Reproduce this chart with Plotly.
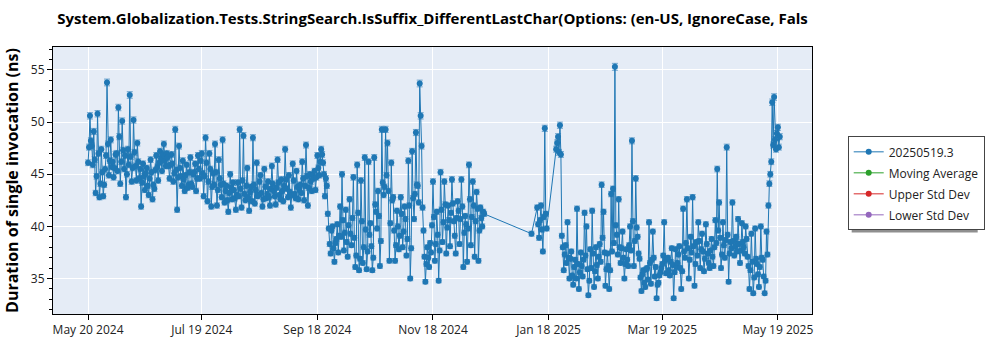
import pandas as pd
import plotly.graph_objects as go

TITLE = "System.Globalization.Tests.StringSearch.IsSuffix_DifferentLastChar(Options: (en-US, IgnoreCase, Fals"
Y_TITLE = "Duration of single invocation (ns)"
SERIES_NAME = "20250519.3"
EXTRA_SERIES = ["Moving Average", "Upper Std Dev", "Lower Std Dev"]
EXTRA_COLORS = ["#2ca02c", "#d62728", "#9467bd"]

TICK_DATES = ["2024-05-20", "2024-07-19", "2024-09-18", "2024-11-18",
              "2025-01-18", "2025-03-19", "2025-05-19"]
TICK_TEXT = ["May 20 2024", "Jul 19 2024", "Sep 18 2024", "Nov 18 2024",
             "Jan 18 2025", "Mar 19 2025", "May 19 2025"]

# run segments: (first run date, runs every 12 hours)
seg1_start = "2024-05-20"
seg1_vals = [
    46.1,47.6, 50.6,48.2, 47.7,45.9, 49.1,46.4, 43.2,44.8, 50.8,47.0, 42.8,44.1,
    47.4,45.2, 42.9,44.0, 45.5,46.8, 53.8,47.9, 44.9,46.3, 48.3,45.7, 46.2,44.7,
    45.6,46.9, 47.0,45.3, 51.4,48.6, 44.1,46.2, 50.1,47.3, 45.5,46.8, 42.8,45.0,
    47.4,45.9, 52.6,46.7, 44.3,45.6, 50.2,47.1, 45.8,44.4, 48.0,46.2, 44.6,45.5,
    41.9,44.2, 46.0,44.8, 43.5,45.1, 45.6,43.9, 43.0,44.6, 46.4,45.2, 42.6,44.0,
    43.6,45.4, 46.8,45.7, 44.4,46.1, 47.2,46.5, 45.3,46.9, 47.9,46.3, 45.8,47.0,
    46.6,45.8, 44.6,45.9, 46.9,46.0, 44.3,45.1, 49.3,45.4, 41.6,44.7, 47.7,45.6,
    44.8,43.9, 46.3,44.5, 43.4,44.9, 45.9,43.7, 44.0,45.2, 46.6,44.1, 43.8,45.0,
    45.2,46.0, 43.4,44.6, 46.8,45.5, 44.6,46.3, 47.0,45.1, 42.9,44.8, 48.5,46.1,
    42.4,44.3, 47.0,45.5, 41.9,43.8, 45.1,44.0, 47.9,45.2, 42.0,43.5, 46.4,44.6,
    44.0,42.8, 48.3,44.1, 42.3,43.4, 43.9,42.5, 41.4,43.2, 45.0,43.7, 42.6,44.2,
    43.5,42.7, 41.6,43.0, 44.2,42.9, 49.3,43.6, 41.8,44.4, 48.7,43.1, 42.5,43.9,
    45.6,42.8, 41.5,43.3, 43.8,42.4, 48.5,44.0, 42.2,43.5, 46.1,42.9, 43.0,44.3,
    44.9,43.2, 41.9,42.6, 45.5,43.8, 42.7,43.1, 44.3,42.8, 42.0,43.6, 45.8,44.1,
    43.4,42.9, 42.1,43.7, 46.4,44.2, 43.0,42.6, 44.5,43.4, 42.4,43.9, 47.4,44.5,
    43.6,42.8, 44.9,43.3, 41.8,43.0, 46.0,44.4, 43.1,42.7, 45.3,43.8, 42.6,43.5,
    44.0,43.2, 46.2,44.6, 42.5,43.9, 47.8,44.8, 42.0,43.7, 45.0,44.3, 43.4,44.9,
    44.6,45.3, 43.5,44.7, 46.8,45.6, 44.9,46.2, 47.4,46.9, 46.1,45.0, 42.9,44.6,
    43.9,41.2, 39.8,38.3, 37.4,39.6, 40.0,37.9, 36.6,38.4, 38.8,40.2, 37.5,39.1,
    41.9,39.0, 45.0,40.6, 37.7,39.4, 41.6,38.5, 37.1,40.1, 42.6,39.3, 38.2,40.8,
    44.7,38.9, 36.1,37.2, 45.9,41.3, 35.8,36.9, 44.4,40.5, 36.5,38.0, 46.6,39.7,
    35.9,37.6, 46.2,39.2, 40.3,38.1, 35.8,37.0, 46.6,42.1, 41.4,39.8, 43.4,41.0,
    36.2,38.6, 49.3,44.2, 43.0,43.8, 49.3,44.9, 48.0,43.4, 36.7,40.3, 46.1,42.5,
    42.8,39.6, 36.7,38.2, 41.5,40.0, 37.8,39.1, 42.8,41.2, 38.0,39.5, 41.9,40.7,
    37.2,38.8, 46.3,42.0, 35.0,37.9, 47.2,42.7, 40.7,43.1, 49.0,44.0, 43.9,42.3,
    53.7,50.6, 47.7,41.8, 39.6,37.1, 34.7,36.4, 38.0,37.0, 36.1,38.4, 37.5,40.1,
    44.3,40.9, 36.7,38.3, 41.4,39.2, 34.8,37.7, 45.2,41.6, 38.5,40.4, 44.3,42.1,
    37.4,39.9, 42.0,40.6, 38.1,41.3, 44.5,42.2, 40.5,39.1, 37.4,40.8, 42.4,41.5,
    38.3,40.7, 44.5,41.9, 36.1,39.4, 41.0,40.2, 36.6,39.8, 45.9,42.6, 38.2,40.9,
    44.3,42.0, 37.1,40.5, 43.3,41.7, 36.7,39.6, 41.8,40.8, 40.0,41.4, 41.2,
]

seg2_start = "2025-01-09"
seg2_vals = [39.3]

seg3_start = "2025-01-12"
seg3_vals = [41.8,40.2, 38.9,40.6, 42.0,39.7, 37.6,40.9, 49.4,41.2, 39.8]

seg4_start = "2025-01-22"
seg4_vals = [
    47.4,48.0, 48.6,47.1, 49.7,46.9, 39.1,38.0, 35.8,37.3, 38.2,36.5, 40.4,37.0,
    35.0,36.9, 37.6,35.3, 34.4,36.1, 36.8,35.0, 41.7,36.4, 34.0,35.6, 37.5,36.2,
    35.2,36.8, 41.3,37.2, 40.0,35.9, 33.4,34.8, 37.8,36.0, 41.5,37.4, 34.2,35.7,
    38.0,36.3, 35.0,37.1, 38.3,36.6, 44.0,38.9, 41.4,37.5, 34.3,35.9, 37.4,36.2,
    34.0,35.8, 43.1,37.6, 43.6,38.4, 55.3,40.1, 39.2,37.3, 42.6,38.0, 36.5,37.9,
    39.5,37.0, 35.0,36.4, 37.8,36.8, 36.2,38.2, 40.0,37.7, 48.2,40.5, 36.2,38.6,
    44.6,39.9, 39.0,37.4, 36.9,35.1, 33.8,35.4, 35.8,34.6, 34.2,35.9, 36.0,34.9,
    40.4,36.5, 34.5,36.8, 39.5,37.0, 35.2,36.1, 33.1,34.4, 34.6,35.3, 35.6,36.0,
    36.4,37.2, 40.4,36.7, 35.5,36.9, 37.0,35.8, 35.3,36.6, 37.9,36.3, 33.1,35.6,
    37.8,36.1, 36.5,37.3, 38.1,36.0, 34.0,35.7, 41.7,37.6, 37.0,38.4, 42.6,37.9,
    35.0,36.8, 39.0,37.5, 42.8,38.1, 34.3,36.4, 38.5,37.2, 40.4,38.6, 36.0,37.8,
    39.3,37.6, 35.7,36.9, 40.2,38.3, 37.4,36.5, 36.0,37.7, 38.8,37.1, 36.2,38.0,
    40.6,38.4, 45.5,39.6, 42.3,38.9, 36.0,37.3, 40.4,38.2, 37.0,38.7, 47.6,39.2,
    34.7,37.4, 38.5,37.9, 42.3,38.6, 37.2,38.1, 39.0,37.6, 40.7,38.3, 36.5,37.7,
    40.3,38.5, 38.0,37.4, 40.0,38.8, 37.1,36.2, 34.0,35.8, 39.3,36.6, 33.6,35.1,
    39.8,36.9, 36.4,35.4, 34.2,36.1, 40.0,37.0, 36.8,35.2, 33.6,34.8, 39.5,37.3,
    42.0,44.1, 45.0,46.2, 51.9,47.8, 52.4,48.3, 47.4,48.9, 49.5,47.6, 48.6,
]

ERR_PERCENT = 0.6

segments = [(seg1_start, seg1_vals), (seg2_start, seg2_vals),
            (seg3_start, seg3_vals), (seg4_start, seg4_vals)]
dates, values = [], []
for start, vals in segments:
    dates.extend(pd.date_range(start, periods=len(vals), freq="12h"))
    values.extend(vals)

FONT = "Open Sans, Segoe UI, sans-serif"
BLUE = "#1f77b4"

fig = go.Figure()
fig.add_trace(go.Scatter(
    x=dates, y=values, mode="lines+markers", name=SERIES_NAME, legendgroup="g0",
    line=dict(color=BLUE, width=1),
    marker=dict(color=BLUE, size=6),
    error_y=dict(type="percent", value=ERR_PERCENT, color="rgba(31,119,180,0.6)",
                 thickness=1, width=3),
))
for i, (nm, col) in enumerate(zip(EXTRA_SERIES, EXTRA_COLORS)):
    fig.add_trace(go.Scatter(x=[None], y=[None], mode="lines+markers", name=nm,
                             legendgroup="g%d" % (i + 1),
                             line=dict(color=col, width=1), marker=dict(color=col, size=6)))

L, R, T, B = 47, 188, 47, 34
W, H = 1000, 350
pw, ph = W - L - R, H - T - B

# legend box (pixels) and its drop shadow
lx0, lx1, ly0, ly1 = 848, 975, 137, 230
def px2x(p): return (p - L) / pw
def py2y(p): return (H - B - p) / ph
fig.add_shape(type="rect", xref="paper", yref="paper",
              x0=px2x(lx0 + 4), x1=px2x(lx1 + 4), y0=py2y(ly1 + 4), y1=py2y(ly0 + 4),
              fillcolor="#8f8f8f", line=dict(width=0), layer="above")

fig.update_layout(
    width=W, height=H,
    margin=dict(l=L, r=R, t=T, b=B),
    paper_bgcolor="white", plot_bgcolor="#E5ECF6",
    font=dict(family=FONT, size=12, color="#222"),
    title=dict(text="<b>" + TITLE + "</b>", x=0.5, xref="paper", xanchor="center",
               y=1 - 19 / H, yref="container", yanchor="middle",
               font=dict(family=FONT, size=15, color="black")),
    showlegend=True,
    legend=dict(x=px2x(lx0), y=py2y(ly0), xanchor="left", yanchor="top",
                bgcolor="white", bordercolor="#444", borderwidth=1,
                tracegroupgap=2, itemwidth=30,
                font=dict(family=FONT, size=12, color="#222")),
    xaxis=dict(range=["2024-05-01 12:00", "2025-06-06"],
               tickvals=TICK_DATES, ticktext=TICK_TEXT,
               showgrid=True, gridcolor="white", gridwidth=1,
               showline=True, linecolor="black", linewidth=1, mirror=True,
               ticks="outside", ticklen=5, tickcolor="black",
               tickfont=dict(family=FONT, size=12, color="#222"), zeroline=False),
    yaxis=dict(range=[31.6, 57.2], tickvals=[35, 40, 45, 50, 55],
               showgrid=True, gridcolor="white", gridwidth=1,
               showline=True, linecolor="black", linewidth=1, mirror=True,
               ticks="outside", ticklen=5, tickcolor="black",
               minor=dict(dtick=1, ticks="outside", ticklen=3, tickcolor="black", showgrid=False),
               tickfont=dict(family=FONT, size=12, color="#222"), zeroline=False,
               title=dict(text="<b>" + Y_TITLE + "</b>", standoff=8,
                          font=dict(family=FONT, size=16, color="black"))),
)

fig.write_html("out.html")
